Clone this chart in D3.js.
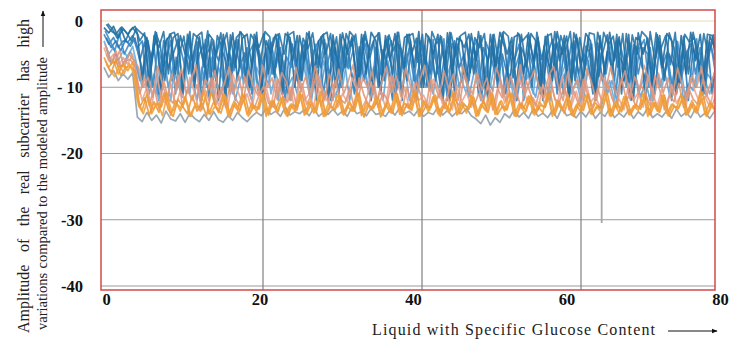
<!DOCTYPE html>
<html>
<head>
<meta charset="utf-8">
<script src="https://cdn.jsdelivr.net/npm/d3@7"></script>
<style>
  html, body { margin: 0; padding: 0; background: #fff; }
  svg { display: block; }
</style>
</head>
<body>
<svg id="chart" width="742" height="341"></svg>
<script>
// ---------------- DATA ----------------
const xTicks = [0, 20, 40, 60, 80];
const yTicks = [0, -10, -20, -30, -40];
const yTickLabels = ["0", "- 10", "-20", "-30", "-40"];
const xStep = 0.6; // sample spacing along x (sample i is at i * xStep)

const grayVals = [-7,-8.5,-7.5,-9,-8,-8.8,-7.8,
 -14.5,-15.2,-13.8,-15,-14.2,-15.4,-13.6,-14.8,-15.1,-14,-15.3,-13.9,-14.7,-15.2,-14.1,-15,-13.7,-14.9,-15.3,-14.3,-15,-13.8,-14.6,-15.2,-14.4,
 -13.8,-14.3,-13.2,-14.1,-13.6,-14.4,-13,-14.2,-13.7,-14,-13.4,-14.3,-13.1,-14.4,-13.8,-14.1,-13.3,-14.2,-13.6,-14.4,-13,-14,-13.7,-14.3,-13.2,-14.1,-13.9,-14.4,-13.4,-14.2,-13.1,-14,-13.6,-14.3,-13.3,-14.4,-13.8,-14.1,-13,-14.2,-13.5,-14.4,-13.7,-14,-13.2,-14.3,
 -14.8,-15.5,-14.2,-15.7,-14.6,-15.3,
 -14,-14.6,-13.4,-14.5,-13.8,-14.7,-13.2,-14.4,-13.9,-14.6,-13.5,-14.7,-13.1,-14.3,-14,-14.6,-13.6,-14.5,-13.3,-14.7,-13.8,-14.4,-13.2,-14.6,-13.9,-14.5,-13.4,-14.7,-13.7,-14.3,-13.1,-14.6,-14,-14.5,-13.5,-14.7,-13.3,-14.4,-13.8,-14.6,-13.2,-14.5,-13.9,-14.7,-13.6];

const salmonVals = [-4,-6,-5,-7,-5.5,-6.5,-5,
 -9,-12,-10,-13,-8,-11.5,-12.5,-9.5,-13,-10.5,-12,-8.5,-11,-13.5,-10,-12,-9,-12.8,-11,-13,
 -8,-10.5,-12.5,-11,-13.2,-9.5,-12,-10,-13,-8.8,-11.5,-12.6,-10,-13.4,-9,-12,-11,-13,-8.2,-10.8,
 -12.4,-9.6,-13,-11,-12.2,-8.6,-10.4,-13.3,-11.8,-9.2,-12.6,-10.6,-13,-8.4,-11.6,-12.8,-10,-13.2,-9.4,-12,
 -11.2,-13,-8.8,-10.2,-12.6,-11.4,-13.4,-9.8,-12.2,-10.8,-13,-8.2,-11.4,-12.8,-10.4,-13.2,-9.2,-12.4,-11,-13,
 -8.6,-10.6,-12.6,-11.6,-13.4,-9.6,-12,-10.2,-13,-8.4,-11.2,-12.8,-10.6,-13.2,-9,-12.2,-11.4,-13,-8.8,-10.4,
 -12.6,-11.8,-13.4,-9.4,-12,-10.8,-13,-8.2,-11,-12.8,-10.2,-13.2,-9.6,-12.4,-11.2,-13,-8.6,-10.8,-12.6,-11.4,
 -13,-10];

const salmonVals2 = [-5,-6.5,-4.5,-7.2,-6,-5.8,-6.8,
 -11,-8.5,-12.8,-10,-13.2,-9,-11.8,-12.4,-8.2,-13,-10.4,-12,-9.6,-13.4,-11,-8.6,-12.6,-10.2,-13,-9.2,
 -11.6,-12.8,-8.4,-10.8,-13.2,-11.2,-9.8,-12.4,-13,-8.8,-11.4,-12.2,-10,-13.4,-9.4,-12.6,-11,-8,-12.8,-10.6,
 -13,-9,-11.8,-12.4,-10.2,-13.2,-8.6,-11.2,-12.8,-9.8,-13,-10.8,-12,-8.4,-11.6,-13.4,-10,-12.6,-9.2,-11.4,
 -13,-8.8,-12.2,-10.6,-13.2,-9.6,-11.8,-12.8,-8.2,-10.4,-13,-11,-12.4,-9.4,-13.4,-10.2,-11.6,-8.6,-12.6,-10.8,
 -13.2,-9,-11.2,-12.8,-10,-13,-8.4,-11.8,-12.2,-9.8,-13.4,-10.6,-12.6,-8.8,-11.4,-13,-10.2,-12.4,-9.2,-11.6,
 -13.2,-8.6,-12,-10.8,-13,-9.6,-11,-12.8,-8.2,-10.4,-13.4,-11.2,-12.2,-9.4,-13,-10,-11.8,-12.6,-8.8,-11.4,
 -12.8,-10.6];

const salmonVals3 = [-3.5,-5.5,-6.5,-4.5,-7,-5,-6,
 -7,-10,-8.5,-11.5,-6.8,-9.5,-12,-8,-10.5,-7.2,-11,-9,-6.6,-12,-8.8,-10.2,-7.5,-11.6,-9.4,-6.9,
 -10.8,-8.2,-12,-7.4,-9.8,-11.2,-6.7,-10,-8.6,-11.8,-7.8,-9.2,-12,-7,-10.6,-8.4,-11.4,-6.8,-9.6,-12,
 -8,-10.4,-7.3,-11,-9,-6.6,-11.8,-8.6,-10,-7.6,-12,-9.2,-6.9,-10.8,-8.2,-11.4,-7.1,-9.8,-12,-8.8,
 -6.7,-10.6,-9.4,-11.6,-7.5,-10.2,-8,-12,-6.8,-9.6,-11,-7.8,-10.4,-8.6,-11.8,-7,-9.2,-12,-8.4,-10.8,
 -6.6,-11.2,-9,-7.4,-10,-11.6,-8.2,-6.9,-9.8,-12,-7.7,-10.6,-8.8,-11.4,-7.2,-9.4,-12,-8,-10.2,-6.8,
 -11,-9.6,-7.5,-11.8,-8.4,-10.4,-6.7,-9,-12,-7.9,-10.8,-8.6,-11.2,-7.1,-9.8,-12,-8.2,-10,-6.9,-11.4,
 -9.2,-7.6];

const orangeVals = [-5.5,-7,-6,-8,-6.5,-7.5,-6.2,
 -12,-13.5,-11,-14,-12.5,-13,-10.8,-14.2,-12,-13.6,-11.4,-14.4,-12.8,-13.2,-10.6,-14,-12.2,-13.8,-11.2,-14.3,
 -12.6,-13.4,-11,-14.1,-12.4,-13.7,-10.9,-14.4,-12.1,-13.3,-11.6,-14,-12.7,-13.5,-10.7,-14.2,-12.3,-13.9,-11.3,-14.4,
 -12.5,-13.1,-11.1,-14,-12.9,-13.6,-10.8,-14.3,-12.2,-13.4,-11.5,-14.5,-12.6,-13.8,-11,-14.1,-12.4,-13.2,-10.6,-14.4,
 -12.1,-13.7,-11.4,-14,-12.8,-13.3,-10.9,-14.2,-12.3,-13.9,-11.2,-14.4,-12.6,-13.5,-11,-14.1,-12.2,-13.6,-10.7,-14.3,
 -12.5,-13.2,-11.3,-14,-12.9,-13.8,-10.8,-14.4,-12.1,-13.4,-11.6,-14.2,-12.7,-13.7,-11.1,-14,-12.3,-13.3,-10.6,-14.3,
 -12.4,-13.9,-11.4,-14.1,-12.8,-13.5,-10.9,-14.4,-12.2,-13.6,-11.2,-14,-12.6,-13.2,-11,-14.2,-12.5,-13.8,-10.7,-14.1,
 -12.3,-13.4];

const orangeVals2 = [-6.5,-7.8,-5.8,-8.2,-7,-6.8,-7.6,
 -13,-11.6,-14.2,-12.2,-13.8,-10.9,-13.4,-14.4,-11.8,-12.9,-14,-11.2,-13.6,-12.4,-14.3,-10.7,-13.1,-13.9,-11.5,-14.4,
 -12.3,-13.5,-11,-14.1,-12.8,-13.3,-10.8,-14.2,-12,-13.7,-11.4,-14.4,-12.6,-13,-11.1,-14,-12.4,-13.8,-10.6,-14.3,
 -12.9,-13.4,-11.3,-14.1,-12.2,-13.6,-10.9,-14.5,-12.7,-13.2,-11.6,-14,-12.1,-13.9,-11,-14.3,-12.5,-13.5,-10.8,-14.2,
 -12.8,-13.1,-11.2,-14.4,-12.3,-13.7,-10.7,-14,-12.6,-13.3,-11.5,-14.3,-12,-13.8,-11.1,-14.1,-12.9,-13.4,-10.9,-14.4,
 -12.4,-13.6,-11.3,-14,-12.7,-13,-10.6,-14.2,-12.2,-13.9,-11.6,-14.4,-12.5,-13.5,-11,-14.1,-12.8,-13.2,-10.8,-14.3,
 -12.1,-13.7,-11.4,-14,-12.6,-13.3,-10.9,-14.2,-12.3,-13.8,-11.2,-14.4,-12.9,-13.1,-11.5,-14,-12.4,-13.6,-10.7,-14.2,
 -12.7,-13.3];

const orangeVals3 = [-6,-7.4,-8.4,-6.8,-7.9,-6.4,-8,
 -12.8,-14,-11.6,-13.4,-12.2,-14.3,-11.2,-13.8,-12.6,-13.1,-11.8,-14.4,-12.4,-13.6,-11.4,-14.1,-12.9,-13.3,-11.1,-14.2,
 -12.1,-13.9,-11.7,-14.4,-12.7,-13.2,-11.3,-14,-12.3,-13.7,-11.9,-14.3,-12.5,-13.5,-11.5,-14.1,-12,-13.8,-11.2,-14.4,
 -12.8,-13.4,-11.6,-14.2,-12.2,-13.6,-11.4,-14,-12.6,-13.1,-11.8,-14.3,-12.4,-13.9,-11.1,-14.1,-12.9,-13.3,-11.7,-14.4,
 -12.1,-13.5,-11.3,-14.2,-12.7,-13.8,-11.9,-14,-12.3,-13.2,-11.5,-14.3,-12.5,-13.7,-11.2,-14.1,-12,-13.4,-11.6,-14.4,
 -12.8,-13.9,-11.4,-14.2,-12.2,-13.1,-11.8,-14,-12.6,-13.6,-11.1,-14.3,-12.4,-13.3,-11.7,-14.1,-12.9,-13.8,-11.3,-14.4,
 -12.1,-13.5,-11.9,-14.2,-12.7,-13.2,-11.5,-14,-12.3,-13.7,-11.2,-14.3,-12.5,-13.4,-11.6,-14.1,-12,-13.9,-11.4,-14.4,
 -12.8,-13.6];

const lightBlueVals = [-3,-5,-4,-6,-4.5,-5.5,-3.8,
 -7,-10,-5,-9,-11,-6,-8,-12,-5.5,-9,-7,-11,-4.5,-10,-8,-6,-12,-7,-9,-5,
 -11,-8,-6.5,-10,-12,-7,-9,-5,-11,-8,-10,-6,-12,-7.5,-9,-4.8,-11,-8,-10,-6,
 -9,-12,-7,-10,-5.5,-8,-11,-6,-9,-12,-7,-10,-5,-8,-11,-9,-6,-12,-8,-10,
 -5.2,-9,-11,-7,-12,-8,-6,-10,-9,-11,-5.5,-8,-12,-7,-10,-6,-9,-11,-8,-12,
 -6.5,-10,-8,-11,-5,-9,-12,-7,-10,-8,-6,-11,-9,-12,-5.8,-8,-10,-7,-11,-9,
 -12,-6,-8,-10,-5.5,-11,-9,-7,-12,-8,-10,-6,-9,-11,-7.5,-12,-8,-10,-6,-9,
 -11,-8];

const lightBlueVals2 = [-4,-6.5,-5,-7,-5.8,-4.6,-6.2,
 -9,-6,-11,-8,-12,-5,-10,-7,-9.5,-11.5,-6,-8.5,-12,-7,-10,-5.5,-9,-11,-8,-6.5,
 -12,-9,-7,-10.5,-5,-11,-8,-9.5,-6,-12,-7.5,-10,-8.5,-11,-5.2,-9,-12,-7,-10,-6,
 -8,-11.5,-9,-6.5,-12,-8,-10,-5.5,-11,-7,-9,-12,-6,-10.5,-8,-11,-5,-9.5,-12,-7.5,
 -10,-6,-8.5,-11,-9,-12,-5.8,-10,-7,-11.5,-8,-6,-12,-9,-10.5,-5.5,-11,-7.5,-9,-12,
 -8,-6.2,-10,-11.5,-7,-9,-12,-5,-10.5,-8,-11,-6.5,-9.5,-12,-7,-10,-8.5,-5.5,-11,-9,
 -12,-7,-10,-6,-8.5,-11.5,-9,-12,-5.8,-10,-7.5,-11,-8,-6,-12,-9.5,-10.5,-7,-11,-8,
 -9,-6.5];

const midBlueVals = [-2,-3.5,-2.5,-4,-3,-3.2,-2.2,
 -4,-3,-10,-5,-2.8,-8,-6,-3,-11,-4,-7,-2.6,-9,-5,-3.5,-12,-4,-6,-3,-10,
 -5,-2.8,-8,-4,-11,-3,-6,-9,-3.2,-7,-4,-12,-2.9,-5,-10,-3.5,-8,-4.5,-3,-11,
 -6,-3,-9,-4,-7,-2.7,-10,-5,-3.3,-12,-4,-8,-3,-6,-11,-3.6,-7,-4.2,-9,-3,
 -5,-10,-2.8,-8,-4,-12,-3.4,-6,-9,-3,-7,-4.6,-11,-3.1,-5,-8,-2.9,-10,-4,-6,
 -3.5,-12,-4.2,-7,-3,-9,-5,-2.8,-11,-4,-8,-3.3,-6,-10,-3.8,-5,-12,-3,-7,-4.4,
 -9,-2.9,-6,-11,-3.6,-8,-4,-5,-10,-3.2,-7,-4.8,-12,-3,-9,-5,-3.4,-8,-4,-11,
 -3.1,-6];

const midBlueVals2 = [-2.5,-4,-3,-4.5,-2.8,-3.8,-2.6,
 -6,-3.2,-9,-4,-11,-3,-7,-5,-2.8,-10,-4.4,-8,-3.1,-12,-5,-3.6,-9,-4,-6,-11,
 -3,-7,-4.8,-10,-3.3,-5,-12,-2.9,-8,-4,-6,-11,-3.5,-9,-4.2,-3,-10,-5,-7,-3.4,
 -12,-4,-8,-2.8,-6,-11,-3.9,-9,-5,-3,-10,-4.3,-7,-12,-3.2,-5,-9,-4,-11,-3,
 -6,-8,-3.6,-10,-4.5,-12,-3,-7,-5,-9,-3.4,-11,-4,-6,-2.9,-10,-5,-8,-3.7,-12,
 -4,-6,-9,-3.1,-11,-5,-7,-3.5,-10,-4.2,-12,-3,-8,-5,-6,-11,-3.3,-9,-4.6,-7,
 -3,-10,-5,-12,-3.8,-6,-9,-4,-11,-3.2,-8,-5,-7,-10,-3.5,-12,-4.1,-6,-9,-3,
 -11,-5];

const midBlueVals3 = [-1.5,-3,-4.5,-2,-5,-3.5,-2.8,
 -5,-8,-3,-10,-4,-6.5,-2.6,-9,-5.5,-11,-3.4,-7,-4.2,-10,-2.8,-8.5,-6,-3.2,-11,-4.6,
 -7.5,-2.9,-9.5,-5,-3.6,-10.5,-6.2,-4,-8,-2.7,-11,-5.4,-7,-3.1,-9,-4.8,-10,-3.5,-6.6,-2.8,
 -8.8,-5.2,-11,-3.9,-7.2,-4.4,-9.8,-2.6,-6,-10.6,-3.3,-8.2,-5.6,-3,-11,-4.1,-7.4,-2.9,-9.2,-6.4,
 -3.7,-10.2,-4.9,-8,-2.7,-11,-5.8,-3.4,-7.6,-9.6,-4.3,-2.8,-10.8,-6.2,-3.6,-8.6,-5,-11,-3.1,-7,
 -4.6,-9.4,-2.9,-6.8,-10.4,-3.8,-8.4,-5.2,-3.2,-11,-4.4,-7.8,-2.6,-9,-6,-3.5,-10.6,-4.8,-8,-3,
 -11,-5.6,-7.2,-3.3,-9.8,-4.2,-2.8,-10,-6.6,-3.9,-8.8,-5.4,-11,-3.1,-7.4,-4.5,-9.2,-2.7,-10.4,-6,
 -3.6,-8.2];

const darkBlueVals = [-1,-1.8,-0.8,-2.5,-1.2,-2,-1,
 -2,-9,-2.5,-6,-1.8,-11,-3,-2,-8,-2.2,-5,-1.6,-10,-2.4,-7,-2,-3,-12,-2,-6,
 -1.8,-9,-2.6,-2,-7,-1.7,-11,-3,-5,-2,-8,-1.9,-2.5,-10,-2.2,-6,-1.6,-9,-3,-2,
 -12,-2.1,-7,-1.8,-5,-2.4,-10,-2,-8,-1.7,-3,-11,-2.2,-6,-1.9,-9,-2.5,-2,-7,-1.6,
 -10,-2.3,-5,-2,-12,-1.8,-8,-2.6,-3,-9,-1.9,-6,-2.2,-11,-2,-7,-1.7,-4,-10,-2.4,
 -2,-8,-1.8,-6,-2.5,-12,-2,-9,-1.6,-5,-2.3,-10,-2,-7,-1.9,-3,-11,-2.2,-8,-1.7,
 -6,-2.4,-9,-2,-12,-1.8,-5,-2.6,-10,-2.1,-7,-1.9,-3,-11,-2.2,-8,-1.7,-6,-2,-9,
 -2.3,-4];

const darkBlueVals2 = [-0.5,-1.5,-2,-1,-3,-1.4,-0.8,
 -3,-1.8,-10,-2.2,-4,-1.6,-8,-2.5,-1.9,-11,-2,-6,-2.3,-1.7,-9,-2.8,-5,-1.8,-12,-2.1,
 -7,-1.6,-2.4,-10,-2,-4,-1.9,-8,-2.6,-2,-11,-1.7,-6,-2.2,-9,-1.8,-3,-12,-2.4,-5,
 -1.9,-10,-2,-7,-1.6,-2.5,-9,-2.1,-4,-11,-1.8,-6,-2.3,-8,-1.7,-12,-2,-5,-2.6,-10,
 -1.9,-3,-9,-2.2,-7,-1.7,-11,-2.4,-4,-2,-8,-1.6,-6,-12,-2.1,-9,-1.8,-5,-2.5,-10,
 -2,-7,-1.9,-3,-11,-2.3,-8,-1.6,-6,-2.2,-12,-1.8,-4,-9,-2.4,-10,-1.7,-5,-2.1,-8,
 -2,-11,-1.9,-7,-2.5,-3,-12,-1.6,-6,-2.2,-9,-1.8,-4,-10,-2.3,-8,-1.7,-5,-11,-2,
 -2.2,-7];

const darkBlueVals3 = [-0.4,-1.2,-2.6,-0.9,-1.8,-3,-1.1,
 -1.8,-2.4,-7,-1.6,-3.5,-9,-2,-1.7,-5,-2.3,-8,-1.9,-2.6,-6,-1.5,-10,-2.2,-4,-1.8,-7.5,
 -2.5,-1.7,-9,-2,-3.2,-6.5,-1.6,-2.4,-8.5,-1.9,-5,-2.1,-1.6,-9.5,-2.6,-4.2,-1.8,-7,-2.2,-1.7,
 -6,-2.4,-10,-1.9,-3.8,-2,-8,-1.6,-5.5,-2.5,-1.8,-9,-2.1,-4.5,-1.7,-7.2,-2.3,-1.9,-6.2,-2,
 -9.8,-1.6,-3.4,-2.4,-8.2,-1.8,-5.2,-2.2,-1.7,-7.8,-2.5,-4,-1.9,-9.2,-2,-6.4,-1.6,-2.3,-8.6,-1.8,
 -3,-2.1,-10,-1.7,-5.8,-2.4,-1.9,-7.4,-2.2,-4.6,-1.6,-9,-2.5,-6.8,-1.8,-2,-8.4,-1.7,-3.6,-2.3,
 -7,-1.9,-9.6,-2.1,-5,-1.6,-2.4,-8,-1.8,-4.2,-2.2,-6.6,-1.7,-9.4,-2,-3.2,-2.5,-7.6,-1.9,-5.4,
 -2.1,-8.8];

// single outlier spike (gray) near x ≈ 62.6
const spikeX = [62.6, 62.6];
const spikeY = [-12, -30.5];

// series list: values, colour, x-offset in samples
const seriesList = [
  { vals: grayVals,       color: "#8e9ca7", off: 0 },
  { vals: lightBlueVals,  color: "#6aaadb", off: 0 },
  { vals: lightBlueVals2, color: "#5d9fd3", off: 0.5 },
  { vals: midBlueVals,    color: "#3282c0", off: 0 },
  { vals: midBlueVals2,   color: "#2a78b6", off: 0.5 },
  { vals: midBlueVals3,   color: "#3a8ac6", off: 0.25 },
  { vals: darkBlueVals,   color: "#1c6a9f", off: 0 },
  { vals: darkBlueVals2,  color: "#246f9e", off: 0.5 },
  { vals: darkBlueVals3,  color: "#1f74aa", off: 0.75 },
  { vals: salmonVals,     color: "#eaa48c", off: 0 },
  { vals: salmonVals2,    color: "#e39478", off: 0.5 },
  { vals: salmonVals3,    color: "#d9977e", off: 0.25 },
  { vals: orangeVals,     color: "#f19b2c", off: 0 },
  { vals: orangeVals2,    color: "#ec9435", off: 0.5 },
  { vals: orangeVals3,    color: "#f0a040", off: 0.25 }
];

// ---------------- CHART ----------------
const svg = d3.select("#chart");
const serif = "'Liberation Serif', 'Times New Roman', Times, serif";

const x = d3.scaleLinear().domain([0, 80]).range([104, 740]);
const xLabel = d3.scaleLinear().domain([0, 80]).range([106, 720]); // label positions as printed
const y = d3.scaleLinear().domain([0, -40]).range([21, 286]);

const frame = { left: 101, top: 10, right: 715, bottom: 290 };

const defs = svg.append("defs");
defs.append("clipPath").attr("id", "plotclip")
  .append("rect")
  .attr("x", frame.left).attr("y", frame.top)
  .attr("width", frame.right - frame.left).attr("height", frame.bottom - frame.top);
defs.append("marker")
  .attr("id", "arr")
  .attr("viewBox", "0 0 10 10")
  .attr("refX", 9).attr("refY", 5)
  .attr("markerWidth", 6).attr("markerHeight", 6)
  .attr("orient", "auto")
  .append("path").attr("d", "M0,1 L10,5 L0,9 Z").attr("fill", "#111");

// horizontal grid
svg.append("g").selectAll("line")
  .data(yTicks)
  .join("line")
  .attr("x1", frame.left).attr("x2", frame.right)
  .attr("y1", d => y(d)).attr("y2", d => y(d))
  .attr("stroke", d => d === 0 ? "#f3e7c9" : "#9a9a9a")
  .attr("stroke-width", d => d === 0 ? 1.5 : 1.2);

// vertical grid
svg.append("g").selectAll("line")
  .data(xTicks.filter(d => d > 0 && d < 80))
  .join("line")
  .attr("x1", d => x(d)).attr("x2", d => x(d))
  .attr("y1", frame.top).attr("y2", frame.bottom)
  .attr("stroke", "#808080")
  .attr("stroke-width", 1.2);

// data lines
const plot = svg.append("g").attr("clip-path", "url(#plotclip)");
plot.selectAll("path.series")
  .data(seriesList)
  .join("path")
  .attr("class", "series")
  .attr("d", s => d3.line().x((d, i) => x((i + s.off) * xStep)).y(d => y(d))(s.vals))
  .attr("fill", "none")
  .attr("stroke", s => s.color)
  .attr("stroke-width", 1.7)
  .attr("stroke-opacity", 0.88)
  .attr("stroke-linejoin", "round");

// spike
plot.append("path")
  .attr("d", d3.line().x(d => x(d[0])).y(d => y(d[1]))(spikeX.map((v, i) => [v, spikeY[i]])))
  .attr("fill", "none")
  .attr("stroke", "#a8a8a8")
  .attr("stroke-width", 1.8);

// frame
svg.append("rect")
  .attr("x", frame.left).attr("y", frame.top)
  .attr("width", frame.right - frame.left)
  .attr("height", frame.bottom - frame.top)
  .attr("fill", "none")
  .attr("stroke", "#d24a4a")
  .attr("stroke-width", 1.5);

// y tick labels
const yAxis = d3.axisLeft(y)
  .tickValues(yTicks)
  .tickFormat((d, i) => yTickLabels[i])
  .tickSize(0)
  .tickPadding(0);
const gy = svg.append("g").attr("transform", "translate(83,0)").call(yAxis);
gy.attr("font-family", null);
gy.select(".domain").remove();
gy.selectAll("text")
  .style("font-family", serif)
  .style("font-weight", "bold")
  .style("font-size", "16.5px")
  .style("white-space", "pre")
  .attr("fill", "#111");

// x tick labels
const xAxis = d3.axisBottom(xLabel)
  .tickValues(xTicks)
  .tickSize(0)
  .tickPadding(0);
const gx = svg.append("g").attr("transform", "translate(0,293)").call(xAxis);
gx.attr("font-family", null);
gx.select(".domain").remove();
gx.selectAll("text")
  .style("font-family", serif)
  .style("font-weight", "bold")
  .style("font-size", "16.5px")
  .attr("fill", "#111");

// justified rotated y title lines
function justified(text, cx, yStart, yEnd, size) {
  const t = svg.append("text")
    .attr("transform", `translate(${cx},${yStart}) rotate(-90)`)
    .style("font-family", serif)
    .style("font-size", size + "px")
    .attr("fill", "#222")
    .text(text);
  const natural = t.node().getComputedTextLength();
  const words = text.split(" ").length;
  const target = yStart - yEnd;
  if (target > natural) {
    t.style("word-spacing", ((target - natural) / (words - 1)) + "px");
  } else {
    t.attr("textLength", target).attr("lengthAdjust", "spacingAndGlyphs");
  }
  return t;
}
justified("Amplitude of the real subcarrier has high", 29, 333, 19, 16);
justified("variations compared to the modeled amplitude", 47, 330, 57, 14.5);

svg.append("line")
  .attr("x1", 43).attr("x2", 43)
  .attr("y1", 47).attr("y2", 11)
  .attr("stroke", "#111").attr("stroke-width", 1)
  .attr("marker-end", "url(#arr)");

// x title
svg.append("text")
  .attr("x", 372).attr("y", 335)
  .style("font-family", serif)
  .style("font-size", "16px")
  .attr("fill", "#222")
  .attr("textLength", 283)
  .attr("lengthAdjust", "spacing")
  .text("Liquid with Specific Glucose Content");

svg.append("line")
  .attr("x1", 668).attr("x2", 717)
  .attr("y1", 331).attr("y2", 331)
  .attr("stroke", "#111").attr("stroke-width", 1)
  .attr("marker-end", "url(#arr)");
</script>
</body>
</html>
